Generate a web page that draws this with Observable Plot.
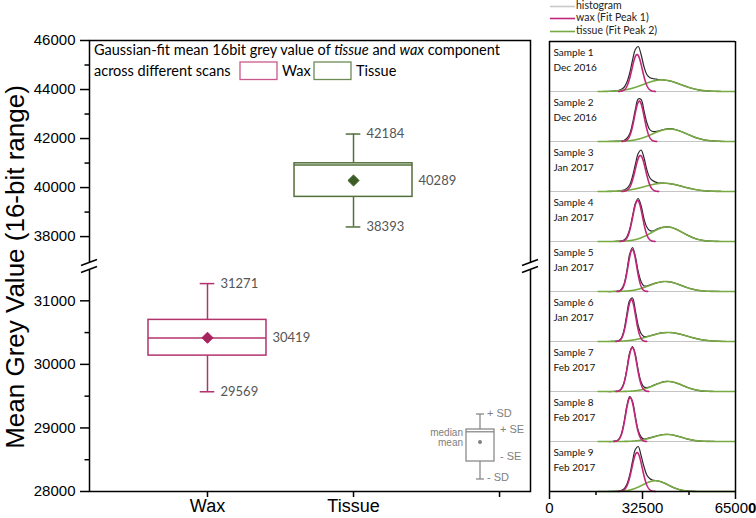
<!DOCTYPE html>
<html><head><meta charset="utf-8">
<script src="https://cdn.jsdelivr.net/npm/d3@7"></script>
<script src="https://cdn.jsdelivr.net/npm/@observablehq/plot@0.6"></script>
<style>
body{margin:0;background:#fff;}
#chart{position:relative;width:756px;height:518px;overflow:hidden;background:#fff;}
#chart svg{position:absolute;top:0;}
</style></head><body><div id="chart"></div>
<script>
// ---------- Left panel: box summary ----------
const categories = ["Wax", "Tissue"];
const catPositions = [1, 2];
const sdHigh = [31271, 42184];
const sdLow = [29569, 38393];
const seHigh = [30700, 40990];
const seLow = [30138, 39620];
const medians = [30414, 40920];
const means = [30419, 40289];
const boxColors = ["#b3336d", "#52703a"];
const meanColors = ["#a8245f", "#3d5c25"];

const yMajorTicks = [28000, 29000, 30000, 31000, 38000, 40000, 42000, 44000, 46000];
const yMinorTicks = [28500, 29500, 30500, 39000, 41000, 43000, 45000];
const yBreak = [31540, 36780];   // axis is cut between these values
const xCatTicks = [1, 2, 3];

// ---------- Right panel: histograms and Gaussian fits ----------
const samples = ["Sample 1","Sample 2","Sample 3","Sample 4","Sample 5","Sample 6","Sample 7","Sample 8","Sample 9"];
const scanDates = ["Dec 2016","Dec 2016","Jan 2017","Jan 2017","Jan 2017","Jan 2017","Feb 2017","Feb 2017","Feb 2017"];
const waxMean = [30600, 31400, 31750, 30800, 28950, 28600, 28950, 28200, 30600];
const waxSD = [1800, 1700, 1800, 1700, 1500, 1500, 1600, 1600, 1800];
const waxPeak = [37, 40.4, 36, 41, 42, 42, 44, 44, 39];
const tissueMean = [39300, 42000, 39900, 41100, 40500, 41500, 41500, 41100, 37000];
const tissueSD = [6500, 6000, 6500, 5500, 5500, 6500, 5000, 5000, 4500];
const tissuePeak = [11.6, 12.4, 8.3, 14.5, 10, 9, 10, 7, 10.7];

const histBins = [20000,22000,24000,25000,26000,27000,28000,29000,30000,31000,32000,33000,34000,35000,36000,37000,38000,40000,42000,44000,46000,48000,50000,52000,54000,56000,58000,60000];
const hist1 = [0,0.3,1,2,4,9,18,31,42,45,37,25,17,14,13,12.5,12,11.5,10.6,8.9,6.8,4.7,3,1.7,0.9,0.4,0.2,0];
const hist2 = [0,0.1,0.3,0.5,1,3,7.5,18,32,42.5,42,31,19,12,10,10,10.5,12,12.8,12,10,7.5,5.1,3.1,1.7,0.8,0.35,0.1];
const hist3 = [0,0.2,0.5,0.8,1.5,3,6.5,15,27,38,41.5,34,22,14,11,9.5,8.5,8.3,7.9,6.8,5.3,3.8,2.5,1.5,0.8,0.4,0.2,0.1];
const hist4 = [0,0,0.3,0.6,1.5,4.5,12,25,38,43,36,23,14.5,11,10.5,11.5,13,14.5,14.5,12.6,9.8,6.6,3.9,2,0.9,0.4,0.15,0];
const hist5 = [0,0,0.4,1.8,7,20,37,44,35,20,10,5.5,5.5,6.5,7.5,8.3,9,10,9.6,8.2,6.1,4,2.3,1.1,0.5,0.2,0.1,0];
const hist6 = [0,0.1,0.7,3,11,27,41,43.5,31,16,8,5,5,5.5,6.5,7.2,8,8.8,9,8.4,7.1,5.5,3.8,2.4,1.4,0.75,0.36,0.15];
const hist7 = [0,0,0.5,2.4,8.5,22,38.5,45,37,21,9.5,4.5,4,4.5,5.8,7,8,9.8,10,8.8,6.7,4.3,2.4,1.1,0.4,0.15,0,0];
const hist8 = [0,0,1.6,6.5,18.5,35,45,40,25,11,4.5,2.5,3,3.6,4.4,5.2,6,7,7,5.9,4.3,2.7,1.4,0.65,0.25,0.1,0,0];
const hist9 = [0,0.1,0.5,1,2.5,7,16,30,42,45,36,25,16.5,13,11.5,11,10.5,8.6,5.8,3.2,1.45,0.55,0.16,0,0,0,0,0];
const histCounts = [hist1,hist2,hist3,hist4,hist5,hist6,hist7,hist8,hist9];

const xTicks = [0, 32500, 65000];
const xMinorTicks = [16250, 48750];

const WAX_LINE = "#c0267a", TISSUE_LINE = "#78aa43", HIST_LINE = "#2a2a2a";
const ARIAL = "'Liberation Sans', Arial, sans-serif";
const CAL = "Lato, 'Open Sans', sans-serif";

// broken-axis mapping: lower segment 28000..31540 and upper 36780..46000 share one linear display axis
const LOW_SPAN = 225, HIGH_SPAN = 226;
const yDisp = v => v <= yBreak[0]
  ? (v - 28000) / (yBreak[0] - 28000) * LOW_SPAN
  : LOW_SPAN + (v - yBreak[1]) / (46000 - yBreak[1]) * HIGH_SPAN;

// ---------- build left plot ----------
const boxes = categories.map((c, i) => ({
  cat: c, pos: catPositions[i], sdHigh: sdHigh[i], sdLow: sdLow[i], seHigh: seHigh[i], seLow: seLow[i],
  median: medians[i], mean: means[i], color: boxColors[i], meanColor: meanColors[i]
}));
const HALF = 0.404, CAP = 0.05;
const Y = k => d => yDisp(d[k]);
const majorDisp = yMajorTicks.map(yDisp);
const minorDisp = yMinorTicks.map(yDisp);

const left = Plot.plot({
  width: 540, height: 518,
  marginLeft: 89, marginRight: 10, marginTop: 40, marginBottom: 27,
  style: {fontFamily: ARIAL, background: "transparent", overflow: "visible", color: "#000"},
  x: {domain: [0.192, 3.212]},
  y: {domain: [0, LOW_SPAN + HIGH_SPAN]},
  color: {type: "identity"},
  marks: [
    Plot.axisY({ticks: majorDisp, tickSize: 9, tickPadding: 5, fontSize: 15, tickFormat: t => String(yMajorTicks[majorDisp.indexOf(t)]), label: null, strokeWidth: 1.5}),
    Plot.axisY({ticks: minorDisp, tickSize: 4.5, tickFormat: () => "", label: null, strokeWidth: 1.5}),
    Plot.axisX({ticks: xCatTicks, tickSize: 6, tickPadding: 2, fontSize: 18, tickFormat: d => categories[d - 1] ?? "", label: null, strokeWidth: 1.5}),
    Plot.frame({stroke: "#000", strokeWidth: 1.5}),
    Plot.ruleX(boxes, {x: "pos", y1: Y("seHigh"), y2: Y("sdHigh"), stroke: "color", strokeWidth: 1.5}),
    Plot.ruleX(boxes, {x: "pos", y1: Y("seLow"), y2: Y("sdLow"), stroke: "color", strokeWidth: 1.5}),
    Plot.ruleY(boxes, {y: Y("sdHigh"), x1: d => d.pos - CAP, x2: d => d.pos + CAP, stroke: "color", strokeWidth: 1.5}),
    Plot.ruleY(boxes, {y: Y("sdLow"), x1: d => d.pos - CAP, x2: d => d.pos + CAP, stroke: "color", strokeWidth: 1.5}),
    Plot.rect(boxes, {x1: d => d.pos - HALF, x2: d => d.pos + HALF, y1: Y("seLow"), y2: Y("seHigh"), stroke: "color", fill: "none", strokeWidth: 1.5}),
    Plot.ruleY(boxes, {y: Y("median"), x1: d => d.pos - HALF, x2: d => d.pos + HALF, stroke: "color", strokeWidth: 1.5}),
    Plot.dot(boxes, {x: "pos", y: Y("mean"), symbol: "diamond2", r: 5, fill: "meanColor", stroke: "meanColor", strokeWidth: 1}),
    Plot.text(boxes, {x: "pos", y: Y("sdHigh"), text: d => String(d.sdHigh), textAnchor: "start", dx: 13, fill: "#555", fontFamily: CAL, fontSize: 13}),
    Plot.text(boxes, {x: "pos", y: Y("sdLow"), text: d => String(d.sdLow), textAnchor: "start", dx: 13, fill: "#555", fontFamily: CAL, fontSize: 13}),
    Plot.text(boxes, {x: d => d.pos + HALF, y: Y("mean"), text: d => String(d.mean), textAnchor: "start", dx: 6, fill: "#555", fontFamily: CAL, fontSize: 13})
  ]
});
left.style.left = "0px";
document.getElementById("chart").appendChild(left);

// decorations on left svg
{
  const svg = d3.select(left);
  const yS = left.scale("y");
  const txt = (x, y, s, o = {}) => svg.append("text").attr("x", x).attr("y", y)
    .attr("text-anchor", o.anchor || "start").attr("dominant-baseline", o.baseline || "auto")
    .attr("font-family", o.font || CAL).attr("font-size", o.size || 14.5).attr("fill", o.fill || "#000").text(s);
  // axis break marks
  const yb = yS.apply(LOW_SPAN);
  for (const xb of [89, 530]) {
    svg.append("rect").attr("x", xb - 3).attr("y", yb - 3.5).attr("width", 6).attr("height", 7).attr("fill", "#fff");
    for (const off of [-3.5, 3.5]) {
      svg.append("line").attr("x1", xb - 8).attr("y1", yb + off + 3).attr("x2", xb + 8).attr("y2", yb + off - 3)
        .attr("stroke", "#000").attr("stroke-width", 1.5);
    }
  }
  // y axis title
  svg.append("text").attr("transform", "translate(17,267) rotate(-90)").attr("text-anchor", "middle")
    .attr("dominant-baseline", "middle").attr("font-family", ARIAL).attr("font-size", 26).attr("fill", "#000")
    .text("Mean Grey Value (16-bit range)");
  // title
  const t1 = svg.append("text").attr("x", 94).attr("y", 55).attr("text-anchor", "start").attr("font-family", CAL).attr("font-size", 14.5).attr("fill", "#000");
  t1.append("tspan").text("Gaussian-fit mean 16bit grey value of ");
  t1.append("tspan").attr("font-style", "italic").text("tissue");
  t1.append("tspan").text(" and ");
  t1.append("tspan").attr("font-style", "italic").text("wax");
  t1.append("tspan").text(" component");
  txt(94, 75.5, "across different scans");
  svg.append("rect").attr("x", 240).attr("y", 62).attr("width", 37).attr("height", 17.5).attr("fill", "none").attr("stroke", "#c9598c").attr("stroke-width", 1.3);
  txt(282, 75.5, "Wax");
  svg.append("rect").attr("x", 314).attr("y", 62).attr("width", 37).attr("height", 17.5).attr("fill", "none").attr("stroke", "#6e8b55").attr("stroke-width", 1.3);
  txt(356, 75.5, "Tissue");
  // inset key
  const g = svg.append("g").attr("stroke", "#808080").attr("stroke-width", 1.2).attr("fill", "none");
  g.append("line").attr("x1", 480).attr("x2", 480).attr("y1", 414).attr("y2", 429);
  g.append("line").attr("x1", 480).attr("x2", 480).attr("y1", 461).attr("y2", 479);
  g.append("line").attr("x1", 476).attr("x2", 484).attr("y1", 414).attr("y2", 414);
  g.append("line").attr("x1", 476).attr("x2", 484).attr("y1", 479).attr("y2", 479);
  g.append("rect").attr("x", 466).attr("y", 429).attr("width", 28).attr("height", 32);
  g.append("line").attr("x1", 466).attr("x2", 494).attr("y1", 431.8).attr("y2", 431.8);
  svg.append("circle").attr("cx", 480).attr("cy", 442).attr("r", 2).attr("fill", "#808080");
  const k = {font: ARIAL, size: 11, fill: "#808080", baseline: "middle"};
  txt(487, 414, "+ SD", k);
  txt(500, 430.5, "+ SE", k);
  txt(500, 457, "- SE", k);
  txt(487, 478.5, "- SD", k);
  txt(463, 433, "median", {...k, size: 10, anchor: "end"});
  txt(463, 443.5, "mean", {...k, size: 10, anchor: "end"});
}

// ---------- build right plot ----------
const histRows = samples.flatMap((s, i) => histBins.map((b, j) => ({sample: s, x: b, y: histCounts[i][j]})));
function gaussRows(s, mu, sd, peak, lo, hi) {
  const rows = [];
  for (let x = lo; x <= hi; x += 100) rows.push({sample: s, x, y: peak * Math.exp(-((x - mu) ** 2) / (2 * sd * sd))});
  return rows;
}
const waxRows = samples.flatMap((s, i) => gaussRows(s, waxMean[i], waxSD[i], waxPeak[i], waxMean[i] - 3.6 * waxSD[i], waxMean[i] + 3.6 * waxSD[i]));
const tissueRows = samples.flatMap((s, i) => gaussRows(s, tissueMean[i], tissueSD[i], tissuePeak[i], 17000, 65000));
const sampleRows = samples.map((s, i) => ({sample: s, date: scanDates[i]}));

const right = Plot.plot({
  width: 216, height: 518,
  marginLeft: 9, marginRight: 21, marginTop: 39.5, marginBottom: 26,
  style: {fontFamily: ARIAL, background: "transparent", overflow: "visible", color: "#000"},
  x: {domain: [0, 65000]},
  y: {domain: [0, 50], axis: null},
  fy: {domain: samples, padding: 0, axis: null},
  facet: {marginTop: 0, marginBottom: 0},
  marks: [
    Plot.ruleY(sampleRows, {y: () => 0, fy: "sample", stroke: "#c4c4c4", strokeWidth: 1.2}),
    Plot.line(histRows, {x: "x", y: "y", z: "sample", fy: "sample", curve: "catmull-rom", stroke: HIST_LINE, strokeWidth: 1.2}),
    Plot.line(tissueRows, {x: "x", y: "y", z: "sample", fy: "sample", stroke: TISSUE_LINE, strokeWidth: 1.6}),
    Plot.line(waxRows, {x: "x", y: "y", z: "sample", fy: "sample", stroke: WAX_LINE, strokeWidth: 1.6}),
    Plot.text(sampleRows, {fy: "sample", text: d => d.sample + "\n" + d.date, frameAnchor: "top-left", dx: 4, dy: 4.5, lineHeight: 1.45, fontSize: 10, fontFamily: CAL, fill: "#111"}),
    Plot.ruleX(sampleRows, {x: () => 0, fy: "sample", stroke: "#000", strokeWidth: 1.5}),
    Plot.ruleX(sampleRows, {x: () => 65000, fy: "sample", stroke: "#000", strokeWidth: 1.5}),
    Plot.ruleY([sampleRows[0]], {y: () => 50, fy: "sample", stroke: "#000", strokeWidth: 1.5}),
    Plot.ruleY([sampleRows[samples.length - 1]], {y: () => 0, fy: "sample", stroke: "#000", strokeWidth: 1.5}),
    Plot.axisX({ticks: xTicks, tickSize: 8, tickPadding: 3, fontSize: 15, tickFormat: d3.format("d"), label: null, strokeWidth: 1.5}),
    Plot.axisX({ticks: xMinorTicks, tickSize: 4, tickFormat: () => "", label: null, strokeWidth: 1.5})
  ]
});
right.style.left = "540px";
document.getElementById("chart").appendChild(right);

{
  const svg = d3.select(right);
  const items = [["histogram", "#c8c8c8", 6.5], ["wax (Fit Peak 1)", WAX_LINE, 18.5], ["tissue (Fit Peak 2)", TISSUE_LINE, 31.5]];
  for (const [label, col, y] of items) {
    svg.append("line").attr("x1", 10).attr("x2", 35).attr("y1", y).attr("y2", y).attr("stroke", col).attr("stroke-width", 1.6);
    svg.append("text").attr("x", 36).attr("y", y).attr("text-anchor", "start").attr("dominant-baseline", "middle").attr("font-family", CAL)
      .attr("font-size", 10.5).attr("fill", "#222").text(label);
  }
  // the last digit of the 65000 tick label appears heavier in the reference
  svg.selectAll("text").filter(function() { return this.textContent === "65000"; }).each(function() {
    const t = d3.select(this);
    t.text("6500");
    t.append("tspan").attr("font-weight", "bold").text("0");
  });
}
</script></body></html>
